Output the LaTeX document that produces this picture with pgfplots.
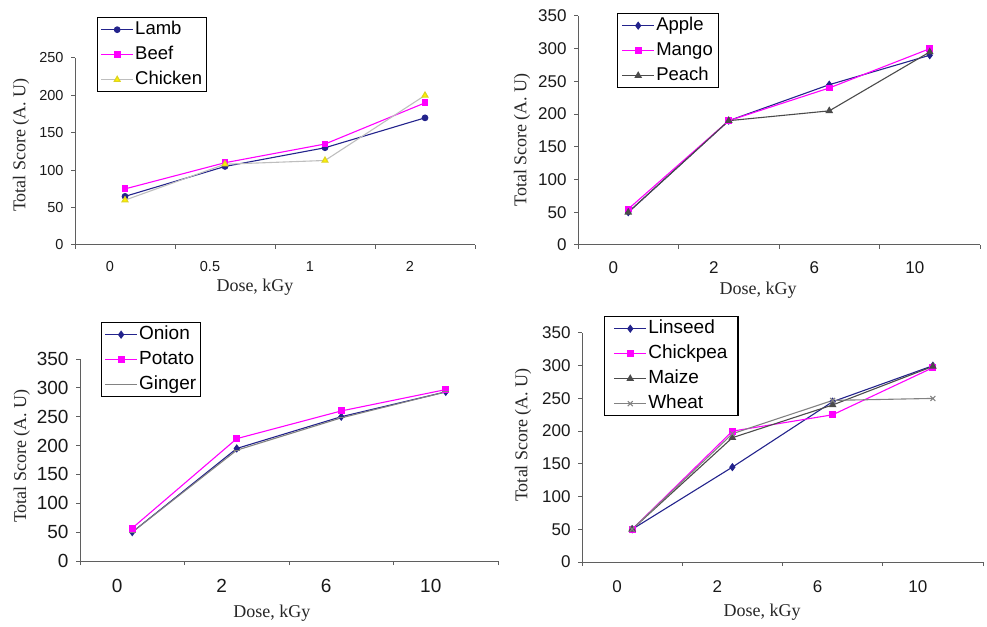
\documentclass[border=0pt]{standalone}
\usepackage{pgfplots}
\pgfplotsset{compat=1.18}
\usepackage{fontspec}
\setmainfont{Liberation Sans}
\newfontfamily\tnr{Liberation Serif}

\definecolor{navyc}{RGB}{35,35,140}
\definecolor{magc}{RGB}{255,0,255}
\definecolor{lgray}{RGB}{190,190,190}
\definecolor{dgray}{RGB}{75,75,75}
\definecolor{mgray}{RGB}{130,130,130}
\definecolor{axisgray}{RGB}{95,95,95}
\definecolor{ticktext}{RGB}{25,25,25}

\pgfplotsset{
  panel/.style={
    scale only axis,
    axis lines=left,
    axis line style={draw=axisgray, line width=1pt, -},
    xmin=0, xmax=4, ymin=0,
    xtick={0,1,2,3,4}, xticklabels={,,,,},
    tick align=outside, major tick length=4pt,
    tick style={draw=axisgray, line width=1pt},
    extra x ticks={0.5,1.5,2.5,3.5},
    extra x tick style={tick style={draw=none}, xticklabel style={xshift=-15pt, yshift=-9pt}},
    ticklabel style={text=ticktext},
    yticklabel style={xshift=-4pt},
    /pgf/number format/assume math mode=true,
    clip=false,
    legend cell align=left,
    legend image code/.code={
      \draw[mark repeat=2,mark phase=2,##1] plot coordinates {(0pt,0pt)(16pt,0pt)(32pt,0pt)};},
    legend style={draw=black, line width=1.3pt, anchor=north west,
      nodes={inner sep=1.5pt, text height=13pt, text depth=4pt}, row sep=5pt},
    xlabel={Dose, kGy}, ylabel={Total Score (A. U)},
    label style={font=\tnr\fontsize{18}{20}\selectfont, anchor=center, text=black!85},
  },
  navyline/.style={color=navyc, line width=1.1pt, mark=diamond*, mark size=3.3pt},
  magline/.style={color=magc, line width=1.1pt, mark=square*, mark size=2.9pt},
  dgrayline/.style={color=dgray, line width=1.1pt, mark=triangle*, mark size=3.4pt},
}

\begin{document}
\begin{tikzpicture}

% top left: meat
\begin{axis}[panel, at={(75pt,381pt)}, anchor=south west, width=400pt, height=187pt,
  ymax=250, ytick={0,50,...,250},
  extra x tick labels={0,0.5,1,2},
  ticklabel style={font=\fontsize{14.5}{16}\selectfont},
  xlabel style={at={(axis description cs:0.45,-0.225)}},
  ylabel style={at={(axis description cs:-0.135,0.535)}},
  legend style={at={(0.055,1.219)}, font=\fontsize{18.5}{20}\selectfont, inner xsep=3pt}]
\addplot[color=navyc, line width=1.1pt, mark=*, mark size=2.8pt] coordinates {(0.5,65)(1.5,105)(2.5,130)(3.5,170)};
\addplot[magline] coordinates {(0.5,75)(1.5,110)(2.5,135)(3.5,190)};
\addplot[color=lgray, line width=1.1pt, mark=triangle*, mark size=3.4pt, mark options={fill=yellow, draw=yellow!85!black}] coordinates {(0.5,60)(1.5,108)(2.5,113)(3.5,200)};
\legend{Lamb,Beef,Chicken}
\end{axis}

% top right: fruit
\begin{axis}[panel, at={(578pt,381pt)}, anchor=south west, width=402pt, height=229pt,
  ymax=350, ytick={0,50,...,350},
  extra x tick labels={0,2,6,10},
  ticklabel style={font=\fontsize{17}{19}\selectfont},
  xlabel style={at={(axis description cs:0.448,-0.197)}},
  ylabel style={at={(axis description cs:-0.139,0.459)}},
  legend style={at={(0.097,1.013)}, font=\fontsize{18.5}{20}\selectfont, inner xsep=4pt}]
\addplot[navyline] coordinates {(0.5,50)(1.5,190)(2.5,245)(3.5,290)};
\addplot[magline] coordinates {(0.5,55)(1.5,190)(2.5,240)(3.5,300)};
\addplot[dgrayline] coordinates {(0.5,50)(1.5,190)(2.5,205)(3.5,295)};
\legend{Apple,Mango,Peach}
\end{axis}

% bottom left: vegetables
\begin{axis}[panel, at={(80pt,65pt)}, anchor=south west, width=418pt, height=202pt,
  ymax=350, ytick={0,50,...,350},
  extra x tick labels={0,2,6,10},
  extra x tick style={xticklabel style={yshift=-2pt}},
  ticklabel style={font=\fontsize{19}{21}\selectfont},
  xlabel style={at={(axis description cs:0.459,-0.257)}},
  ylabel style={at={(axis description cs:-0.139,0.52)}},
  legend style={at={(0.05,1.183)}, font=\fontsize{19}{21}\selectfont, inner xsep=3pt}]
\addplot[navyline] coordinates {(0.5,50)(1.5,195)(2.5,250)(3.5,293)};
\addplot[magline] coordinates {(0.5,57)(1.5,212)(2.5,260)(3.5,297)};
\addplot[color=mgray, line width=1.1pt, mark=-, mark size=3.5pt] coordinates {(0.5,50)(1.5,192)(2.5,248)(3.5,293)};
\legend{Onion,Potato,Ginger}
\end{axis}

% bottom right: grains
\begin{axis}[panel, at={(582pt,64pt)}, anchor=south west, width=401pt, height=229pt,
  ymax=350, ytick={0,50,...,350},
  extra x tick labels={0,2,6,10},
  extra x tick style={xticklabel style={yshift=-2pt}},
  ticklabel style={font=\fontsize{17}{19}\selectfont},
  xlabel style={at={(axis description cs:0.449,-0.218)}},
  ylabel style={at={(axis description cs:-0.147,0.555)}},
  legend style={at={(0.055,1.074)}, font=\fontsize{19}{21}\selectfont, inner xsep=9pt}]
\addplot[navyline] coordinates {(0.5,50)(1.5,145)(2.5,245)(3.5,300)};
\addplot[magline] coordinates {(0.5,50)(1.5,200)(2.5,225)(3.5,297)};
\addplot[dgrayline] coordinates {(0.5,50)(1.5,190)(2.5,240)(3.5,299)};
\addplot[color=mgray, line width=1.1pt, mark=x, mark size=3.5pt] coordinates {(0.5,50)(1.5,196)(2.5,247)(3.5,250)};
\legend{Linseed,Chickpea,Maize,Wheat}
\end{axis}
\path (0pt,0pt) rectangle (987pt,626pt);
\end{tikzpicture}
\end{document}
